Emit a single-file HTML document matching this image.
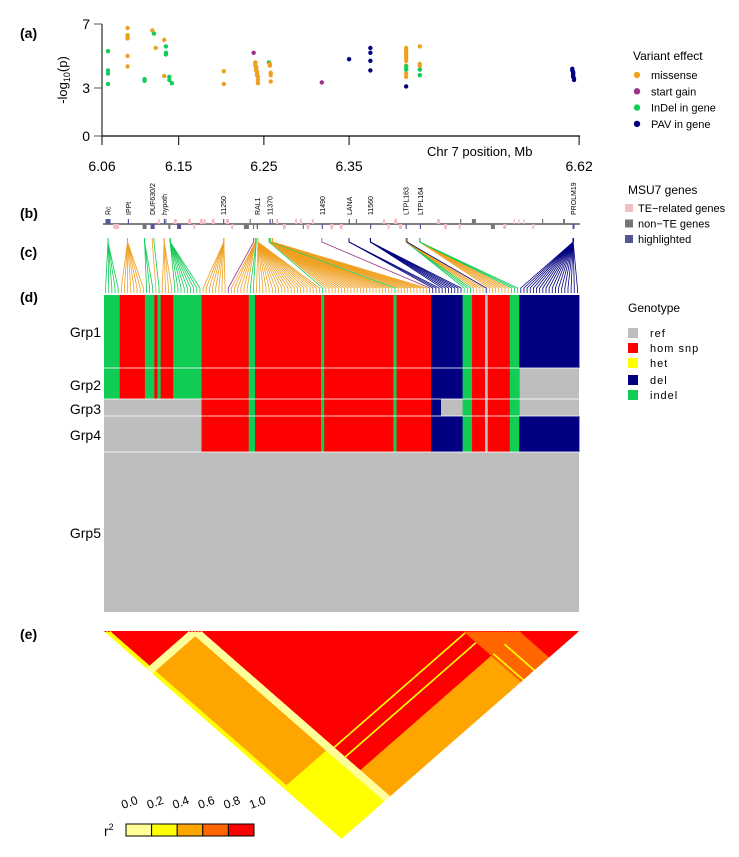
<!DOCTYPE html>
<html><head><meta charset="utf-8"><style>
html,body{margin:0;padding:0;background:#fff;}
svg{display:block;font-family:"Liberation Sans",Arial,sans-serif;}
</style></head><body>
<svg id="fig" width="739" height="857" viewBox="0 0 739 857" xmlns="http://www.w3.org/2000/svg">
<g id="pa"></g>
<g id="pb"></g>
<g id="pc"></g>
<g id="pd"></g>
<g id="pe"></g>
<g id="lg"></g>
</svg>
<script>
// ---------- data ----------
const pointPos = [6.067,6.067,6.067,6.067, 6.090,6.090,6.090,6.090,6.090,6.090, 6.110,6.110, 6.119,6.121,6.123, 6.133,6.133,6.135,6.135,6.135,6.139,6.139,6.142, 6.203,6.203, 6.238, 6.240,6.240,6.240,6.241,6.241,6.241,6.242,6.242,6.242,6.243,6.243,6.243, 6.256, 6.257,6.257,6.258,6.258,6.258, 6.318, 6.350, 6.375,6.375,6.375,6.375, 6.417,6.417,6.417,6.417,6.417,6.417,6.417,6.417,6.417,6.417,6.417,6.417, 6.433,6.433,6.433,6.433,6.433, 6.612,6.612,6.613,6.613,6.613,6.613,6.614,6.614];
const pointP = [5.3,4.1,3.9,3.25, 6.75,6.3,6.2,6.1,5.0,4.35, 3.55,3.45, 6.6,6.4,5.5, 6.0,3.75,5.6,5.2,5.1,3.7,3.5,3.3, 4.05,3.25, 5.2, 4.6,4.5,4.4,4.3,4.2,4.1,4.0,3.9,3.8,3.7,3.5,3.3, 4.6, 4.5,4.4,3.95,3.8,3.4, 3.35, 4.8, 5.5,5.2,4.7,4.1, 5.5,5.35,5.2,5.05,4.9,4.7,4.4,3.9,3.7,4.35,4.15,3.1, 5.6,4.5,4.4,4.15,3.8, 4.2,4.1,4.0,3.9,3.8,3.7,3.6,3.5];
const pointType = ['indel','indel','indel','indel','missense','missense','missense','missense','missense','missense','indel','indel','missense','indel','missense','missense','missense','indel','indel','indel','indel','indel','indel','missense','missense','startgain','missense','missense','missense','missense','missense','missense','missense','missense','missense','missense','missense','missense','indel','missense','missense','missense','missense','missense','startgain','pav','pav','pav','pav','pav','missense','missense','missense','missense','missense','missense','missense','missense','missense','indel','indel','pav','missense','missense','missense','indel','indel','pav','pav','pav','pav','pav','pav','pav','pav'];
const xTicks = [6.06,6.15,6.25,6.35,6.62];
const yTicks = [0,3,7];

const genePos = [6.0671,6.091,6.1194,6.1333,6.1505,6.2028,6.2423,6.2573,6.3186,6.3502,6.3753,6.417,6.4337,6.6134,
 6.0766,6.1267,6.146,6.1628,6.1683,6.1767,6.1806,6.1906,6.2073,6.2128,6.2657,6.2741,6.2879,6.2934,6.3019,6.3074,6.3297,6.3408,6.3909,6.3964,6.4047,6.4104,6.4549,6.4632,6.4798,6.5327,6.5439,6.5494,6.555,6.5661,
 6.110,6.135,6.139,6.2295,6.234,6.2379,6.2601,6.2963,6.3586,6.481,6.4965,6.5188,6.5772,6.6022];
const geneType = ['hl','hl','hl','hl','hl','hl','hl','hl','hl','hl','hl','hl','hl','hl',
 'te','te','te','te','te','te','te','te','te','te','te','te','te','te','te','te','te','te','te','te','te','te','te','te','te','te','te','te','te','te',
 'non','non','non','non','non','non','non','non','non','non','non','non','non','non'];
const geneStrand = [1,1,-1,1,-1,1,-1,1,-1,1,-1,-1,-1,-1,
 -1,1,1,1,-1,1,1,1,1,-1,1,-1,1,1,-1,1,-1,-1,1,-1,1,-1,1,-1,-1,-1,1,1,1,-1,
 -1,1,-1,-1,1,-1,1,-1,1,1,1,-1,1,1];
const geneLen = [5,1,4,1,4,1,1,1,1,1,1,1,1,2, 6,2,3,3,2,3,2,3,3,2,2,3,2,2,3,2,3,3,2,2,3,3,3,3,2,3,1,1,1,2, 4,1,2,5,1,1,1,1,1,1,4,4,1,2];
const geneLabel = ['Rc','IPPt','DUF630/2','hypoth','11250','RAL1','11370','11490','LANA','11560','LTPL163','LTPL164','PROLM19'];
const geneLabelPos = [6.0671,6.091,6.1194,6.1333,6.2028,6.2423,6.2573,6.3186,6.3502,6.3753,6.417,6.4337,6.6134];

const varPos = [6.067,6.090,6.110,6.119,6.121,6.133,6.140,6.203,6.238,6.240,6.241,6.243,6.256,6.257,6.258,6.260,6.318,6.350,6.375,6.417,6.417,6.418,6.433,6.433,6.613];
const varType = ['indel','missense','indel','missense','indel','missense','indel','missense','startgain','missense','indel','missense','indel','missense','indel','missense','startgain','pav','pav','indel','missense','gap','missense','indel','pav'];
const varClass = ['L','L','L','L','L','L','L','M','M','M','M','M','M','M','M','M','M','Pa','Pb','R','R','G','R','R','Q'];
const varCount = [5,8,3,1,1,4,9,8,1,6,2,21,1,22,1,10,1,3,7,3,4,1,7,3,19];

const groupNames = ['Grp1','Grp2','Grp3','Grp4','Grp5'];
const groupSize = [73,31,17,36,160];
const carrierL  = [1,1,0,0,0];
const carrierM  = [1,1,1,1,0];
const carrierPa = [1,1,1,1,0];
const carrierPb = [1,1,0,1,0];
const carrierR  = [1,1,1,1,0];
const carrierG  = [0,0,0,0,0];
const carrierQ  = [1,0,0,1,0];

const ldClasses = ['L','M','P','R','Q'];
const ldL = [0.85,0.5,0.5,0.3,0.3];
const ldM = [0.5,1.0,0.9,0.9,0.5];
const ldP = [0.5,0.9,1.0,0.9,0.5];
const ldR = [0.3,0.9,0.9,0.7,0.7];
const ldQ = [0.3,0.5,0.5,0.7,0.9];
const weakIdx = [0,1,27,28,29,30,115,122];
const weakVal = [0.3,0.3,0.15,0.15,0.15,0.15,0.3,0.3];
const r2Ticks = ['0.0','0.2','0.4','0.6','0.8','1.0'];
</script>
<script>
const NS='http://www.w3.org/2000/svg';
function mk(parent,tag,attrs,name,text){const e=document.createElementNS(NS,tag);for(const k in attrs)e.setAttribute(k,attrs[k]);


if(text!==undefined)e.textContent=text;parent.appendChild(e);return e;}
const COL={missense:'#f0a020',startgain:'#993388',indel:'#11cc55',pav:'#000080'};
const GCOL={missense:'#ff0000',startgain:'#ff0000',indel:'#11cc55',pav:'#000080',gap:'#bebebe'};
const xMb=m=>102+(m-6.06)*852;
const yP=p=>136-p*16;
const pa=document.getElementById('pa'),pb=document.getElementById('pb'),pc=document.getElementById('pc'),pd=document.getElementById('pd'),pe=document.getElementById('pe'),lg=document.getElementById('lg');
function plabel(t,y){mk(lg,'text',{x:20,y:y,'font-size':14,'font-weight':'bold'},'panel-label',t);}
plabel('(a)',38);plabel('(b)',218);plabel('(c)',257);plabel('(d)',302);plabel('(e)',639);

// ---- panel a ----
mk(pa,'line',{x1:102,y1:24,x2:102,y2:136,stroke:'#555','stroke-width':1.5},'y-axis');
mk(pa,'line',{x1:102,y1:136,x2:580,y2:136,stroke:'#000','stroke-width':1.2},'x-axis');
yTicks.forEach(t=>{mk(pa,'line',{x1:94,y1:yP(t),x2:102,y2:yP(t),stroke:'#555'},'y-tick');
 mk(pa,'text',{x:90,y:yP(t)+5,'font-size':14,'text-anchor':'end'},'y-tick-label',String(t));});
xTicks.forEach(t=>{mk(pa,'line',{x1:xMb(t),y1:136,x2:xMb(t),y2:145,stroke:'#000'},'x-tick');
 mk(pa,'text',{x:xMb(t),y:171,'font-size':14,'text-anchor':'middle'},'x-tick-label',t.toFixed(2));});
mk(pa,'text',{x:427,y:156,'font-size':13},'x-axis-title','Chr 7 position, Mb');
const yt=mk(pa,'text',{x:0,y:0,'font-size':13,'text-anchor':'middle',transform:'translate(67,80) rotate(-90)'},'y-axis-title','');
yt.innerHTML='-log<tspan font-size="9" dy="3">10</tspan><tspan dy="-3">(p)</tspan>';
pointPos.forEach((m,i)=>{mk(pa,'circle',{cx:xMb(m),cy:yP(pointP[i]),r:2.2,fill:COL[pointType[i]]},'point-'+pointType[i]);});

// ---- panel b ----
mk(pb,'line',{x1:103,y1:224,x2:580,y2:224,stroke:'#000','stroke-width':1},'gene-baseline');
const GC={hl:'#55559a',te:'#f4bcc4',non:'#777777'};
genePos.forEach((m,i)=>{const w=Math.max(1.2,geneLen[i]);const y=geneStrand[i]>0?219:224;
 mk(pb,'rect',{x:xMb(m)-w/2,y:y,width:w,height:5,fill:GC[geneType[i]]},'gene-'+geneType[i]);});
geneLabel.forEach((t,i)=>{mk(pb,'text',{x:0,y:0,'font-size':7,transform:`translate(${xMb(geneLabelPos[i])+2.5},215) rotate(-90)`},'gene-label',t);});

// ---- variants ----
const vars=[];varPos.forEach((p,g)=>{for(let k=0;k<varCount[g];k++)vars.push({pos:p,type:varType[g],cls:varClass[g]});});
const N=vars.length,HX0=104,HX1=579,cw=(HX1-HX0)/N;
// ---- panel c ----
vars.forEach((v,i)=>{const sx=xMb(v.pos),tx=HX0+(i+0.5)*cw;const c=v.type==='gap'?COL.pav:COL[v.type];
 mk(pc,'polyline',{points:`${sx},238 ${sx},242 ${tx},288 ${tx},293`,fill:'none',stroke:c,'stroke-width':0.8},'connector-'+v.type);});

// ---- panel d ----
const carrier={L:carrierL,M:carrierM,Pa:carrierPa,Pb:carrierPb,R:carrierR,G:carrierG,Q:carrierQ};
const labelOff=[42,22,15,24,86];
let y=295;
groupSize.forEach((h,g)=>{
 mk(pd,'rect',{x:HX0,y:y,width:HX1-HX0,height:h,fill:'#bebebe'},'group-ref-'+(g+1));
 vars.forEach((v,i)=>{if(carrier[v.cls][g])mk(pd,'rect',{x:HX0+i*cw,y:y,width:cw+0.4,height:h,fill:GCOL[v.type]},'genotype-cell');});
 mk(pd,'text',{x:101,y:y+labelOff[g],'font-size':14,'text-anchor':'end'},'group-label',groupNames[g]);
 if(g>0)mk(pd,'line',{x1:HX0,y1:y,x2:HX1,y2:y,stroke:'#fff','stroke-width':1,'stroke-opacity':0.8},'group-divider');
 y+=h;});

// ---- panel e ----
const ldRows={L:ldL,M:ldM,P:ldP,R:ldR,Q:ldQ};
const ldc=v=>({L:'L',M:'M',Pa:'P',Pb:'P',R:'R',G:'R',Q:'Q'})[v.cls];
const bins=['#ffff99','#ffff00','#ffa500','#ff6600','#ff0000'];
const paths=['','','','',''];
const LY0=631,k=208/238,w=cw,h=cw*k;
for(let i=0;i<N;i++)for(let j=i+1;j<N;j++){
 const a=ldc(vars[i]),b=ldc(vars[j]);let r=ldRows[a][ldClasses.indexOf(b)];
 const wi=weakIdx.indexOf(i),wj=weakIdx.indexOf(j);
 if(a!==b||(a==='L'&&b==='L')){if(wi>=0)r=Math.min(r,weakVal[wi]);if(wj>=0)r=Math.min(r,weakVal[wj]);}
 const bi=Math.min(4,Math.floor(r*5));
 const cx=HX0+(i+j+1)*w/2,cy=LY0+(j-i)*h/2;
 paths[bi]+=`M${cx.toFixed(1)},${(cy-h/2-0.3).toFixed(1)}L${(cx+w/2+0.3).toFixed(1)},${cy.toFixed(1)}L${cx.toFixed(1)},${(cy+h/2+0.3).toFixed(1)}L${(cx-w/2-0.3).toFixed(1)},${cy.toFixed(1)}Z`;}
paths.forEach((d,i)=>mk(pe,'path',{d:d,fill:bins[i]},'ld-cells-bin-'+i));
for(let i=0;i<N;i++){const cx=HX0+(i+0.5)*w;mk(pe,'path',{d:`M${cx-w/2},${LY0}L${cx+w/2},${LY0}L${cx},${LY0+h/2}Z`,fill:'#ff0000'},'ld-diagonal');}
// colour bar
bins.forEach((c,i)=>mk(pe,'rect',{x:126+i*25.6,y:824,width:25.6,height:12,fill:c,stroke:'#000','stroke-width':1},'r2-colorbar-bin'));
r2Ticks.forEach((t,i)=>mk(pe,'text',{x:0,y:0,'font-size':12,transform:`translate(${123+i*25.6},809) rotate(-20)`},'r2-tick-label',t));
const r2=mk(pe,'text',{x:104,y:836,'font-size':14},'r2-label','');r2.innerHTML='r<tspan font-size="9" dy="-6">2</tspan>';

// ---- legends ----
mk(lg,'text',{x:633,y:60,'font-size':12},'variant-legend-title','Variant effect');
[['missense','missense'],['start gain','startgain'],['InDel in gene','indel'],['PAV in gene','pav']].forEach((e,i)=>{
 mk(lg,'circle',{cx:637,cy:75+i*16.3,r:3.2,fill:COL[e[1]]},'legend-dot');
 mk(lg,'text',{x:651,y:79+i*16.3,'font-size':11},'legend-entry',e[0]);});
mk(lg,'text',{x:628,y:194,'font-size':12},'gene-legend-title','MSU7 genes');
[['TE\u2212related genes','te'],['non\u2212TE genes','non'],['highlighted','hl']].forEach((e,i)=>{
 mk(lg,'rect',{x:625,y:204+i*15.5,width:8,height:8,fill:GC[e[1]]},'legend-swatch');
 mk(lg,'text',{x:638,y:212+i*15.5,'font-size':11},'legend-entry',e[0]);});
mk(lg,'text',{x:628,y:312,'font-size':12},'genotype-legend-title','Genotype');
[['ref','#bebebe',333],['hom snp','#ff0000',348],['het','#ffff00',363],['del','#000080',380],['indel','#11cc55',395]].forEach(e=>{
 mk(lg,'rect',{x:628,y:e[2]-5,width:10,height:10,fill:e[1]},'legend-swatch');
 mk(lg,'text',{x:650,y:e[2]+4,'font-size':11,'letter-spacing':'1'},'legend-entry',e[0]);});
</script>
</body></html>
